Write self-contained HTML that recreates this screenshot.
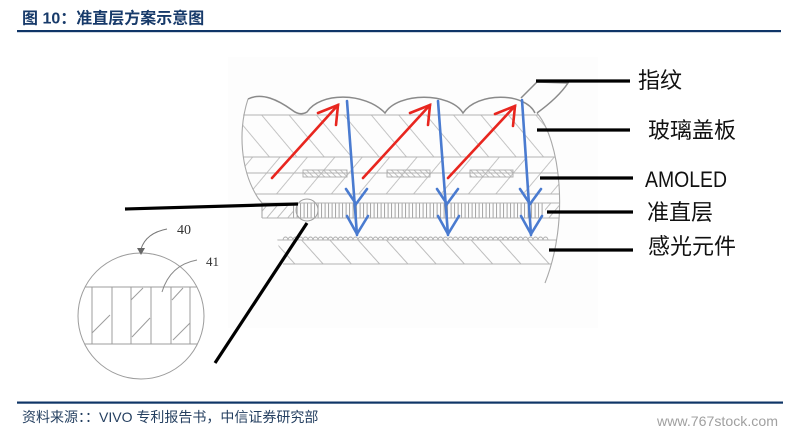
<!DOCTYPE html>
<html>
<head>
<meta charset="utf-8">
<style>
html,body{margin:0;padding:0;background:#fff;}
body{width:794px;height:432px;overflow:hidden;position:relative;}
svg{position:absolute;left:0;top:0;}
</style>
</head>
<body>
<svg width="794" height="432" viewBox="0 0 794 432" xmlns="http://www.w3.org/2000/svg">
<defs>
  <pattern id="hB" patternUnits="userSpaceOnUse" width="21" height="200" patternTransform="rotate(-40)">
    <line x1="0.5" y1="0" x2="0.5" y2="200" stroke="#c4c4c4" stroke-width="1"/>
  </pattern>
  <pattern id="hF" patternUnits="userSpaceOnUse" width="21" height="200" patternTransform="rotate(40)">
    <line x1="0.5" y1="0" x2="0.5" y2="200" stroke="#c4c4c4" stroke-width="1"/>
  </pattern>
  <pattern id="hF2" patternUnits="userSpaceOnUse" width="8" height="200" patternTransform="rotate(40)">
    <line x1="0.5" y1="0" x2="0.5" y2="200" stroke="#bdbdbd" stroke-width="1"/>
  </pattern>
  <pattern id="hS" patternUnits="userSpaceOnUse" width="21" height="200" patternTransform="rotate(-42)">
    <line x1="0.5" y1="0" x2="0.5" y2="200" stroke="#bdbdbd" stroke-width="1"/>
  </pattern>
  <pattern id="hD" patternUnits="userSpaceOnUse" width="4" height="40" patternTransform="rotate(-45)">
    <line x1="0.5" y1="0" x2="0.5" y2="40" stroke="#b0b0b0" stroke-width="0.8"/>
  </pattern>
  <pattern id="col" patternUnits="userSpaceOnUse" x="293" y="203" width="3.5" height="15">
    <line x1="0.6" y1="0" x2="0.6" y2="15" stroke="#9a9a9a" stroke-width="0.9"/>
  </pattern>
  <clipPath id="cL">
    <path d="M248,88 C238,130 240,170 258,198 L262,200 L262,232 L277,238 L283,270 L700,270 L700,88 Z"/>
  </clipPath>
  <clipPath id="cR">
    <path d="M537,90 L537,113 C560,140 570,220 545,283 L200,283 L200,90 Z"/>
  </clipPath>
</defs>

<!-- faint image background -->
<rect x="228" y="57" width="370" height="271" fill="#fdfdfd"/>

<!-- Title -->
<text x="22" y="23.5" font-family="'Liberation Sans','Noto Sans CJK SC',sans-serif" font-size="16" font-weight="bold" fill="#173a6a">图 10：准直层方案示意图</text>
<rect x="17" y="30" width="764" height="2.2" fill="#0f3567"/>

<!-- Layers -->
<g clip-path="url(#cL)">
<g clip-path="url(#cR)">
  <rect x="230" y="115" width="345" height="42" fill="url(#hB)"/>
  <rect x="230" y="157" width="345" height="37" fill="url(#hF)"/>
  <rect x="255" y="203" width="38" height="15" fill="url(#hF2)"/>
  <rect x="293" y="203" width="252" height="15" fill="url(#col)"/>
  <rect x="545" y="203" width="30" height="15" fill="url(#hF2)"/>
  <rect x="270" y="240" width="300" height="24" fill="url(#hS)"/>
  <g stroke="#b3b3b3" stroke-width="1.1" fill="none">
    <line x1="230" y1="115" x2="580" y2="115"/>
    <line x1="230" y1="157" x2="580" y2="157"/>
    <line x1="230" y1="173" x2="580" y2="173"/>
    <line x1="230" y1="194" x2="580" y2="194"/>
    <line x1="255" y1="203" x2="580" y2="203"/>
    <line x1="255" y1="218" x2="580" y2="218"/>
    <line x1="277" y1="240" x2="580" y2="240"/>
    <line x1="283" y1="264" x2="580" y2="264"/>
  </g>
</g>
</g>

<!-- AMOLED small rects -->
<g stroke="#aaaaaa" stroke-width="0.9">
  <rect x="303" y="170" width="44" height="7" fill="url(#hD)"/>
  <rect x="387" y="170" width="43" height="7" fill="url(#hD)"/>
  <rect x="470" y="170" width="43" height="7" fill="url(#hD)"/>
</g>

<!-- sensor bumps -->
<path d="M283,240 a2.5,3 0 0 1 5,0 a2.5,3 0 0 1 5,0 a2.5,3 0 0 1 5,0 a2.5,3 0 0 1 5,0 a2.5,3 0 0 1 5,0 a2.5,3 0 0 1 5,0 a2.5,3 0 0 1 5,0 a2.5,3 0 0 1 5,0 a2.5,3 0 0 1 5,0 a2.5,3 0 0 1 5,0 a2.5,3 0 0 1 5,0 a2.5,3 0 0 1 5,0 a2.5,3 0 0 1 5,0 a2.5,3 0 0 1 5,0 a2.5,3 0 0 1 5,0 a2.5,3 0 0 1 5,0 a2.5,3 0 0 1 5,0 a2.5,3 0 0 1 5,0 a2.5,3 0 0 1 5,0 a2.5,3 0 0 1 5,0 a2.5,3 0 0 1 5,0 a2.5,3 0 0 1 5,0 a2.5,3 0 0 1 5,0 a2.5,3 0 0 1 5,0 a2.5,3 0 0 1 5,0 a2.5,3 0 0 1 5,0 a2.5,3 0 0 1 5,0 a2.5,3 0 0 1 5,0 a2.5,3 0 0 1 5,0 a2.5,3 0 0 1 5,0 a2.5,3 0 0 1 5,0 a2.5,3 0 0 1 5,0 a2.5,3 0 0 1 5,0 a2.5,3 0 0 1 5,0 a2.5,3 0 0 1 5,0 a2.5,3 0 0 1 5,0 a2.5,3 0 0 1 5,0 a2.5,3 0 0 1 5,0 a2.5,3 0 0 1 5,0 a2.5,3 0 0 1 5,0 a2.5,3 0 0 1 5,0 a2.5,3 0 0 1 5,0 a2.5,3 0 0 1 5,0 a2.5,3 0 0 1 5,0 a2.5,3 0 0 1 5,0 a2.5,3 0 0 1 5,0 a2.5,3 0 0 1 5,0 a2.5,3 0 0 1 5,0 a2.5,3 0 0 1 5,0 a2.5,3 0 0 1 5,0 a2.5,3 0 0 1 5,0 a2.5,3 0 0 1 5,0 a2.5,3 0 0 1 5,0" fill="none" stroke="#aaaaaa" stroke-width="0.9"/>

<!-- edges -->
<g fill="none" stroke="#a8a8a8" stroke-width="1.1">
  <path d="M248,99 C238,130 240,170 258,198 L262,203 L262,218"/>
  <path d="M537,113 C560,140 570,220 545,283"/>
</g>
<!-- fingerprint wave -->
<g fill="none" stroke="#8a8a8a" stroke-width="1.5">
  <path d="M248,99 C262,92 278,100 292,110 C297,114 302,115 307,112 C320,92 365,92 385,113 C398,92 450,92 463,113 C477,92 525,92 535,113"/>
  <path d="M521,98 L537,82 L568,83 C560,95 548,105 537,113"/>
</g>

<!-- small circle -->
<circle cx="307" cy="210" r="11" fill="none" stroke="#a0a0a0" stroke-width="1"/>

<!-- red arrows -->
<g stroke="#e8261f" stroke-width="2.6" fill="none" stroke-linecap="round">
  <line x1="272" y1="178" x2="338" y2="105"/>
  <polyline points="318,113 338,105 336,125"/>
  <line x1="363" y1="178" x2="430" y2="105"/>
  <polyline points="410,113 430,105 428,125"/>
  <line x1="448" y1="178" x2="515" y2="106"/>
  <polyline points="495,114 515,106 513,126"/>
</g>

<!-- blue arrows -->
<g stroke="#4a7bd0" stroke-width="2.6" fill="none" stroke-linecap="round">
  <line x1="347" y1="101" x2="357" y2="235"/>
  <polyline points="346,189 356,204 367,189"/>
  <polyline points="347,216 357,234 368,216"/>
  <line x1="438" y1="101" x2="448" y2="235"/>
  <polyline points="437,189 447,204 458,189"/>
  <polyline points="438,216 448,234 459,216"/>
  <line x1="522" y1="100" x2="531" y2="235"/>
  <polyline points="520,189 530,204 541,189"/>
  <polyline points="521,216 531,234 542,216"/>
</g>

<!-- big magnifier circle -->
<g fill="none" stroke="#9c9c9c" stroke-width="1">
  <circle cx="141" cy="316" r="63"/>
  <line x1="85" y1="287" x2="197" y2="287"/>
  <line x1="85" y1="344" x2="197" y2="344"/>
  <line x1="92" y1="287" x2="92" y2="344"/>
  <line x1="112" y1="287" x2="112" y2="344"/>
  <line x1="131" y1="287" x2="131" y2="344"/>
  <line x1="151" y1="287" x2="151" y2="344"/>
  <line x1="171" y1="287" x2="171" y2="344"/>
  <line x1="190" y1="287" x2="190" y2="344"/>
  <line x1="92" y1="333" x2="110" y2="315"/>
  <line x1="131" y1="300" x2="143" y2="288"/>
  <line x1="132" y1="337" x2="150" y2="318"/>
  <line x1="172" y1="300" x2="183" y2="288"/>
  <line x1="173" y1="340" x2="190" y2="323"/>
  <path d="M167,229 Q146,233 141,249" stroke="#777"/>
  <path d="M197,260 Q170,265 162,292" stroke="#888"/>
</g>
<polygon points="137,248 145,248 141,255" fill="#666"/>
<text x="177" y="234" font-family="'Liberation Serif',serif" font-size="14" fill="#333">40</text>
<text x="206" y="266" font-family="'Liberation Serif',serif" font-size="13" fill="#333">41</text>

<!-- black leader lines -->
<g stroke="#000" stroke-width="3.2" stroke-linecap="butt">
  <line x1="125" y1="209" x2="298" y2="204"/>
  <line x1="307" y1="223" x2="215" y2="363"/>
  <line x1="536" y1="81" x2="630" y2="81"/>
  <line x1="537" y1="130" x2="630" y2="130"/>
  <line x1="540" y1="178" x2="633" y2="178"/>
  <line x1="547" y1="212" x2="633" y2="212"/>
  <line x1="549" y1="250" x2="633" y2="250"/>
</g>

<!-- labels -->
<g font-family="'Liberation Sans','Noto Sans CJK SC',sans-serif" fill="#111" font-size="22">
  <text x="638" y="88">指纹</text>
  <text x="648" y="138">玻璃盖板</text>
  <text x="645" y="187" textLength="82" lengthAdjust="spacingAndGlyphs">AMOLED</text>
  <text x="647" y="220">准直层</text>
  <text x="648" y="254">感光元件</text>
</g>

<!-- footer -->
<rect x="17" y="401.5" width="766" height="2.2" fill="#0f3567"/>
<text x="22" y="422" font-family="'Liberation Sans','Noto Sans CJK SC',sans-serif" font-size="14" fill="#243f60">资料来源：：VIVO 专利报告书，中信证券研究部</text>
<text x="657" y="426" font-family="'Liberation Sans',sans-serif" font-size="14" fill="#a0a0a0" textLength="121" lengthAdjust="spacingAndGlyphs">www.767stock.com</text>
</svg>
</body>
</html>
